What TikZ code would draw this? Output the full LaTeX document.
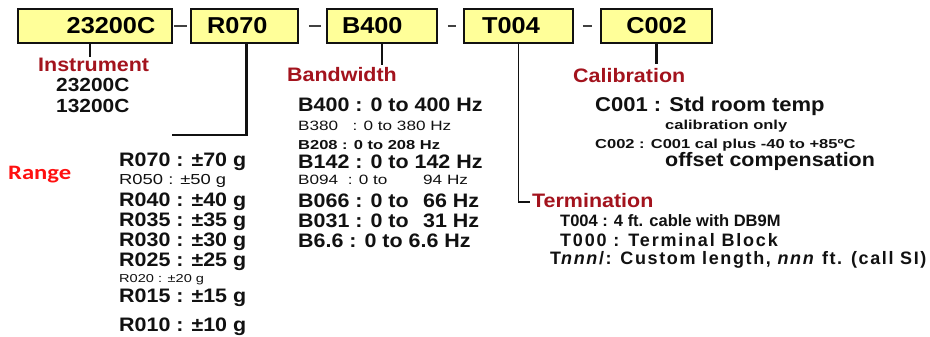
\documentclass[tikz,border=0pt]{standalone}
\usepackage{fontspec}
\setmainfont{Liberation Sans}[FakeStretch=1.1]
\newfontfamily\smallface{Liberation Sans}[FakeStretch=1.27]
\newfontfamily\plainface{Liberation Sans}
\newfontfamily\spacedface{Liberation Sans}[LetterSpace=10]
\newfontfamily\calfont{Carlito}[FakeStretch=1.2]
\definecolor{ink}{HTML}{111111}
\definecolor{codebg}{HTML}{FFFF99}
\definecolor{capred}{HTML}{A3131D}
\definecolor{rangered}{HTML}{FF1010}

\begin{document}
\begin{tikzpicture}[
  x=1pt, y=-1pt,
  code/.style={draw=ink, fill=codebg, line width=1.6pt, inner sep=0pt,
               minimum height=34pt, minimum width=#1,
               font=\bfseries\fontsize{23}{23}\selectfont},
  txt/.style={anchor=base west, inner sep=0pt, text=ink},
  fieldlbl/.style={txt, text=capred, font=\bfseries\fontsize{19.5}{20}\selectfont},
  inl/.style={txt, font=\bfseries\fontsize{19}{19}\selectfont},
  big/.style={txt, font=\bfseries\fontsize{19.5}{20}\selectfont},
  sml/.style={txt, font=\smallface\fontsize{13.5}{14}\selectfont},
  smb/.style={txt, font=\smallface\bfseries\fontsize{13}{14}\selectfont},
  trm/.style={txt, font=\plainface\bfseries\fontsize{16.5}{17}\selectfont},
  trs/.style={txt, font=\spacedface\bfseries\fontsize{18}{18}\selectfont},
  lnk/.style={draw=ink, line width=2.4pt},
  lnkthin/.style={draw=ink, line width=1.3pt},
  sep/.style={draw=ink!80, line width=1.4pt},
]
\path[fill=white] (0,0) rectangle (930,337);
\useasboundingbox (0,0) rectangle (930,337);

%% ---------------- part number boxes ----------------
\node[code=154pt] (instr) at (95,26)    {\hspace*{32pt}23200C};
\node[code=107pt] (range) at (244.5,26) {R070\hspace*{14.5pt}};
\node[code=110pt] (band)  at (382,26)   {B400\hspace*{19.5pt}};
\node[code=109pt] (term)  at (518.5,26) {T004\hspace*{15pt}};
\node[code=111pt] (calib) at (656.5,26) {C002};

\draw[sep, shorten <=1pt,  shorten >=3pt] (instr) -- (range);
\draw[sep, shorten <=10pt, shorten >=5pt] (range) -- (band);
\draw[sep, shorten <=10pt, shorten >=7pt] (band)  -- (term);
\draw[sep, shorten <=9pt,  shorten >=8pt] (term)  -- (calib);

%% ---------------- instrument ----------------
\node[fieldlbl] (instrlbl) at (38,72) {Instrument};
\node[inl] (i1) at (56,92)  {23200C};
\node[inl] (i2) at (56,113) {13200C};

\draw[lnk, shorten >=1pt] ([xshift=-5pt]instr.south) -- ([xshift=-5pt]instr.south |- instrlbl.north);

%% ---------------- range ----------------
\node[txt, text=rangered, font=\calfont\bfseries\fontsize{20.5}{21}\selectfont]
  (rangelbl) at (8,179) {Range};
\node[big] (r070) at (119,166) {R070 : ±70 g};
\node[sml, font=\smallface\fontsize{14.5}{15}\selectfont] (r050) at (119,184) {R050 : ±50 g};
\node[big] (r040) at (119,206) {R040 : ±40 g};
\node[big] (r035) at (119,226) {R035 : ±35 g};
\node[big] (r030) at (119,246) {R030 : ±30 g};
\node[big] (r025) at (119,266) {R025 : ±25 g};
\node[sml, font=\smallface\fontsize{11.5}{12}\selectfont] (r020) at (119,282) {R020 : ±20 g};
\node[big] (r015) at (119,302) {R015 : ±15 g};
\node[big] (r010) at (119,331) {R010 : ±10 g};

\coordinate (rangeend) at (172,135);
\draw[lnk] ([xshift=2pt]range.south) |- (rangeend);

%% ---------------- bandwidth ----------------
\node[fieldlbl] (bandlbl) at (287,82) {Bandwidth};
\node[big] (b400) at (298,112)   {B400 : 0 to 400 Hz};
\node[sml] (b380) at (298,130.5) {B380\ \ \ : 0 to 380 Hz};
\node[smb] (b208) at (298,149.5) {B208 : 0 to 208 Hz};
\node[big] (b142) at (298,168)   {B142 : 0 to 142 Hz};
\node[sml] (b094) at (298,184.5) {\makebox[125pt][l]{B094\ \ : 0 to}94 Hz};
\node[big] (b066) at (298,207)   {\makebox[125pt][l]{B066 : 0 to}66 Hz};
\node[big] (b031) at (298,227)   {\makebox[125pt][l]{B031 : 0 to}31 Hz};
\node[big] (b6p6) at (298,247)   {B6.6 : 0 to 6.6 Hz};

\draw[lnk, line width=1.8pt, shorten >=3pt] (band.south) -- (band.south |- bandlbl.north);

%% ---------------- termination ----------------
\node[fieldlbl] (termlbl) at (532,207) {Termination};
\node[trm] (t004) at (560,226.5) {T004 : 4 ft. cable with DB9M};
\node[trs] (t000) at (560,246.5) {T000 : Terminal Block};
\node[trs, font=\spacedface\bfseries\fontsize{18}{18}\selectfont\addfontfeature{LetterSpace=9}]
  (tnnn) at (550,264) {T\textit{nnn}/: Custom length, \textit{nnn} ft. (call SI)};

\draw[lnkthin] (term.south) |- ([xshift=-2pt, yshift=-2pt]termlbl.west);

%% ---------------- calibration ----------------
\node[fieldlbl] (caliblbl) at (573,83) {Calibration};
\node[big, font=\bfseries\fontsize{20}{20}\selectfont] (c001) at (595,112) {C001 : Std room temp};
\node[smb] (c001b) at (665,129) {calibration only};
\node[smb] (c002)  at (595,149) {C002 : C001 cal plus -40 to +85ºC};
\node[big] (c002b) at (665,166) {offset compensation};

\draw[lnk, shorten >=5pt] (calib.south) -- (calib.south |- caliblbl.north);

\end{tikzpicture}
\end{document}
